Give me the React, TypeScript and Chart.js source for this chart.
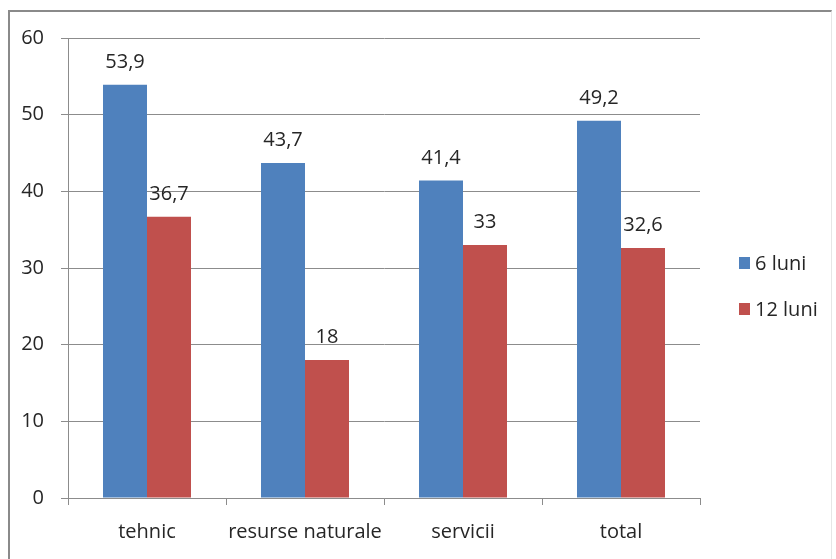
import React, { useEffect, useRef } from "react";
import { Chart, registerables } from "chart.js";

Chart.register(...registerables);

const categories = ["tehnic", "resurse naturale", "servicii", "total"];
const series6 = [53.9, 43.7, 41.4, 49.2];
const series12 = [36.7, 18, 33, 32.6];
const seriesNames = ["6 luni", "12 luni"];
const valueLabels6 = ["53,9", "43,7", "41,4", "49,2"];
const valueLabels12 = ["36,7", "18", "33", "32,6"];

const FONT = "'Open Sans', sans-serif";
const TEXT = "#262626";
const GRID = "#8c8c8c";
const FS = 20;

const labelsPlugin = {
  id: "valueLabels",
  afterDatasetsDraw(chart: any) {
    const ctx = chart.ctx;
    ctx.save();
    ctx.font = `${FS}px ${FONT}`;
    ctx.fillStyle = TEXT;
    ctx.textAlign = "center";
    ctx.textBaseline = "alphabetic";
    const lbls = [valueLabels6, valueLabels12];
    chart.data.datasets.forEach((ds: any, di: number) => {
      const meta = chart.getDatasetMeta(di);
      meta.data.forEach((bar: any, i: number) => {
        ctx.fillText(lbls[di][i], bar.x, bar.y - 17);
      });
    });
    ctx.restore();
  },
  afterDraw(chart: any) {
    const ctx = chart.ctx;
    ctx.save();
    ctx.font = `${FS}px ${FONT}`;
    ctx.textAlign = "left";
    ctx.textBaseline = "middle";
    const ys = [263, 309];
    chart.data.datasets.forEach((ds: any, di: number) => {
      ctx.fillStyle = ds.backgroundColor;
      ctx.fillRect(739, ys[di] - 6, 11, 12);
      ctx.fillStyle = TEXT;
      ctx.fillText(ds.label, 755, ys[di] + 1);
    });
    ctx.restore();
  },
};

export default function App() {
  const ref = useRef<HTMLCanvasElement>(null);
  useEffect(() => {
    const chart = new Chart(ref.current!, {
      type: "bar",
      data: {
        labels: categories,
        datasets: [
          { label: seriesNames[0], data: series6, backgroundColor: "#4F81BD" },
          { label: seriesNames[1], data: series12, backgroundColor: "#C0504D" },
        ],
      },
      options: {
        animation: false,
        responsive: false,
        maintainAspectRatio: false,
        layout: { padding: { top: 38, right: 136, left: 0, bottom: 0 } },
        datasets: {
          bar: { barPercentage: 1, categoryPercentage: 0.557 },
        },
        plugins: {
          legend: { display: false },
          tooltip: { enabled: false },
        },
        scales: {
          x: {
            grid: {
              drawOnChartArea: false,
              drawTicks: true,
              tickLength: 7,
              color: GRID,
              offset: true,
            },
            border: { display: true, color: GRID, width: 1 },
            ticks: {
              font: { family: FONT, size: FS },
              color: TEXT,
              padding: 15,
              maxRotation: 0,
              autoSkip: false,
            },
            afterFit(scale: any) {
              scale.height = 61;
            },
          },
          y: {
            min: 0,
            max: 60,
            ticks: {
              stepSize: 10,
              font: { family: FONT, size: FS },
              color: TEXT,
              padding: 17,
            },
            grid: { color: GRID, tickLength: 7, drawTicks: true },
            border: { display: true, color: GRID, width: 1 },
            afterFit(scale: any) {
              scale.width = 68;
            },
          },
        },
      },
      plugins: [labelsPlugin],
    });
    return () => chart.destroy();
  }, []);
  return (
    <div style={{ position: "fixed", left: 0, top: 0, width: 836, height: 559, background: "#fff" }}>
      <div
        style={{
          position: "absolute",
          left: 8,
          top: 10,
          width: 824,
          height: 560,
          borderLeft: "2px solid #8a8a8a",
          borderTop: "2px solid #8a8a8a",
          borderRight: "1px solid #e6e6e6",
          boxSizing: "border-box",
        }}
      />
      <canvas ref={ref} width={836} height={559} style={{ position: "absolute", left: 0, top: 0 }} />
    </div>
  );
}
